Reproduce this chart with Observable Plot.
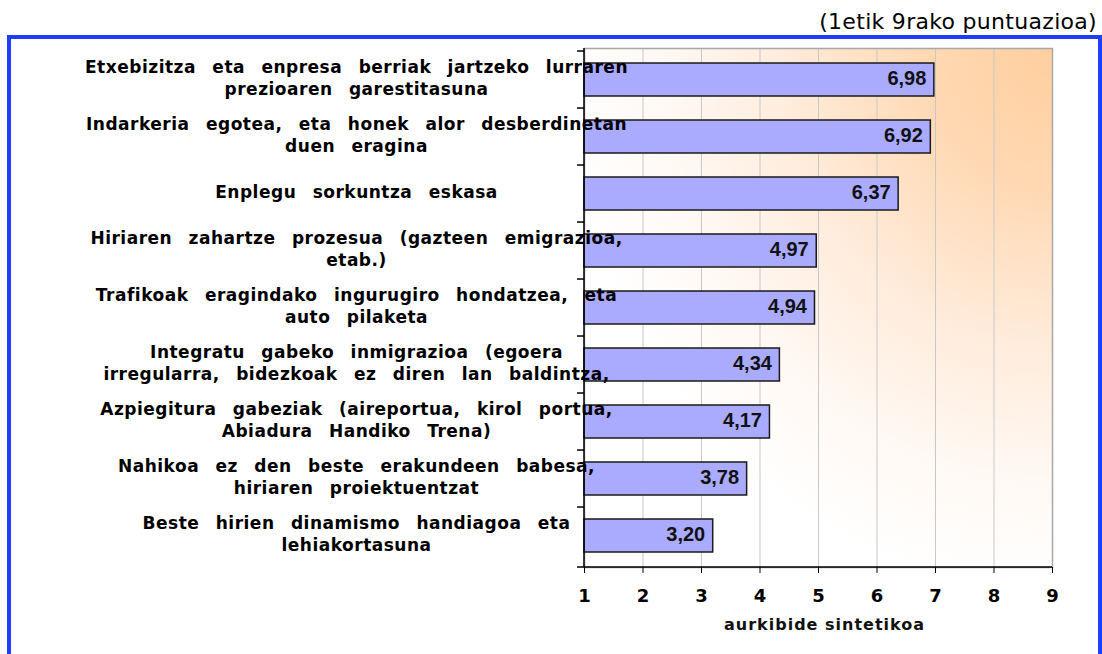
<!DOCTYPE html>
<html>
<head>
<meta charset="utf-8">
<script src="https://cdn.jsdelivr.net/npm/d3@7"></script>
<script src="https://cdn.jsdelivr.net/npm/@observablehq/plot@0.6"></script>
<style>
  html, body { margin: 0; padding: 0; background: #fff; }
  #page { position: relative; width: 1102px; height: 654px; overflow: hidden; }
  #frame { position: absolute; left: 7px; top: 35px; width: 1095px; height: 700px;
           box-sizing: border-box; border: 4px solid #1f3dff; }
  #title { position: absolute; right: 5px; top: 9px; font-family: "DejaVu Sans", sans-serif;
           font-size: 22px; letter-spacing: 0.3px; color: #000; white-space: nowrap; }
  #chart { position: absolute; left: 0; top: 0; }
</style>
</head>
<body>
<div id="page">
  <div id="frame"></div>
  <div id="title"></div>
  <div id="chart"></div>
</div>
<script>
const categories = [
  "Etxebizitza eta enpresa berriak jartzeko lurraren\nprezioaren garestitasuna",
  "Indarkeria egotea, eta honek alor desberdinetan\nduen eragina",
  "Enplegu sorkuntza eskasa",
  "Hiriaren zahartze prozesua (gazteen emigrazioa,\netab.)",
  "Trafikoak eragindako ingurugiro hondatzea, eta\nauto pilaketa",
  "Integratu gabeko inmigrazioa (egoera\nirregularra, bidezkoak ez diren lan baldintza,",
  "Azpiegitura gabeziak (aireportua, kirol portua,\nAbiadura Handiko Trena)",
  "Nahikoa ez den beste erakundeen babesa,\nhiriaren proiektuentzat",
  "Beste hirien dinamismo handiagoa eta\nlehiakortasuna"
];
const values = [6.98, 6.92, 6.37, 4.97, 4.94, 4.34, 4.17, 3.78, 3.20];
const xTicks = [1, 2, 3, 4, 5, 6, 7, 8, 9];
const xDomain = [1, 9];
const titleText = "(1etik 9rako puntuazioa)";
const xLabel = "aurkibide sintetikoa";

const data = categories.map((c, i) => ({category: c, value: values[i]}));
const fmt = v => v.toFixed(2).replace(".", ",");

document.getElementById("title").textContent = titleText;

function background(index, scales, vals, dims) {
  const svg = d3.create("svg:g");
  const defs = svg.append("defs");
  const rg = defs.append("radialGradient").attr("id", "bg")
    .attr("cx", 1).attr("cy", 0).attr("r", 1.05).attr("fx", 1).attr("fy", 0);
  rg.append("stop").attr("offset", "0").attr("stop-color", "#ffcf9e");
  rg.append("stop").attr("offset", "0.25").attr("stop-color", "#ffd8b2");
  rg.append("stop").attr("offset", "0.55").attr("stop-color", "#ffecdc");
  rg.append("stop").attr("offset", "0.8").attr("stop-color", "#fff9f4");
  rg.append("stop").attr("offset", "1").attr("stop-color", "#ffffff");
  const x0 = dims.marginLeft, y0 = dims.marginTop;
  const w = dims.width - dims.marginLeft - dims.marginRight;
  const h = dims.height - dims.marginTop - dims.marginBottom;
  svg.append("rect").attr("x", x0).attr("y", y0).attr("width", w).attr("height", h)
    .attr("fill", "url(#bg)");
  return svg.node();
}

const plot = Plot.plot({
  width: 1102,
  height: 654,
  marginLeft: 584,
  marginRight: 50,
  marginTop: 48,
  marginBottom: 87,
  style: {background: "transparent", overflow: "visible"},
  x: {domain: xDomain, axis: null},
  y: {domain: categories, paddingInner: 0.42, paddingOuter: 0.21, axis: null},
  marks: [
    background,
    Plot.gridX(xTicks, {stroke: "#c8c8c8", strokeOpacity: 1, strokeWidth: 1}),
    Plot.frame({stroke: "#a8a8a8", strokeWidth: 1.5}),
    Plot.axisX(xTicks, {
      tickSize: 6, tickPadding: 16, fontSize: 18, fontWeight: "bold",
      fontFamily: "DejaVu Sans", stroke: "#000", label: null, tickFormat: d => String(d)
    }),
    Plot.barX(data, {
      x1: xDomain[0], x2: "value", y: "category",
      fill: "#aaaaff", stroke: "#1a1a1a", strokeWidth: 1.5
    }),
    Plot.text(data, {
      x: "value", y: "category", text: d => fmt(d.value),
      textAnchor: "end", dx: -8, dy: -1,
      fontSize: 20, fontWeight: "bold", fontFamily: "Liberation Sans", fill: "#111"
    }),
    Plot.text(categories, {
      y: d => d, text: d => d, frameAnchor: "left", dx: -228, dy: -3,
      textAnchor: "middle", lineHeight: 1.3, fontSize: 17, fontWeight: "bold",
      fontFamily: "DejaVu Sans", fill: "#000", ariaLabel: "category"
    }),
    Plot.text([xLabel], {
      frameAnchor: "bottom", dx: 6, dy: 62, fontSize: 16, fontWeight: "bold",
      fontFamily: "DejaVu Sans", fill: "#111", ariaLabel: "xlabel"
    })
  ]
});

document.getElementById("chart").appendChild(plot);

const svgSel = d3.select(plot);
// wide word spacing of the category labels
const flatCats = new Set(categories.map(c => c.replace(/\n/g, "")));
svgSel.selectAll("text").each(function () {
  if (flatCats.has(this.textContent)) {
    this.style.wordSpacing = "10px";
    this.style.letterSpacing = "0.5px";
  }
  if (this.textContent === xLabel) this.style.letterSpacing = "1px";
});

// axis lines and category boundary ticks, from the plot's scales
const xs = plot.scale("x");
const ys = plot.scale("y");
const g = svgSel.append("g").attr("stroke", "#000").attr("stroke-width", 1.5);
const xLeft = xs.apply(xDomain[0]);
const xRight = xs.apply(xDomain[1]);
const yTop = ys.range[0], yBottom = ys.range[1];
const step = ys.apply(categories[1]) - ys.apply(categories[0]);
const tickLen = 7;
g.append("line").attr("x1", xLeft).attr("x2", xLeft).attr("y1", yTop).attr("y2", yBottom);
g.append("line").attr("x1", xLeft - tickLen).attr("x2", xRight).attr("y1", yBottom).attr("y2", yBottom);
categories.forEach(c => {
  const yb = ys.apply(c) - step * ys.paddingInner / 2;
  g.append("line").attr("x1", xLeft - tickLen).attr("x2", xLeft).attr("y1", yb).attr("y2", yb);
});
</script>
</body>
</html>
